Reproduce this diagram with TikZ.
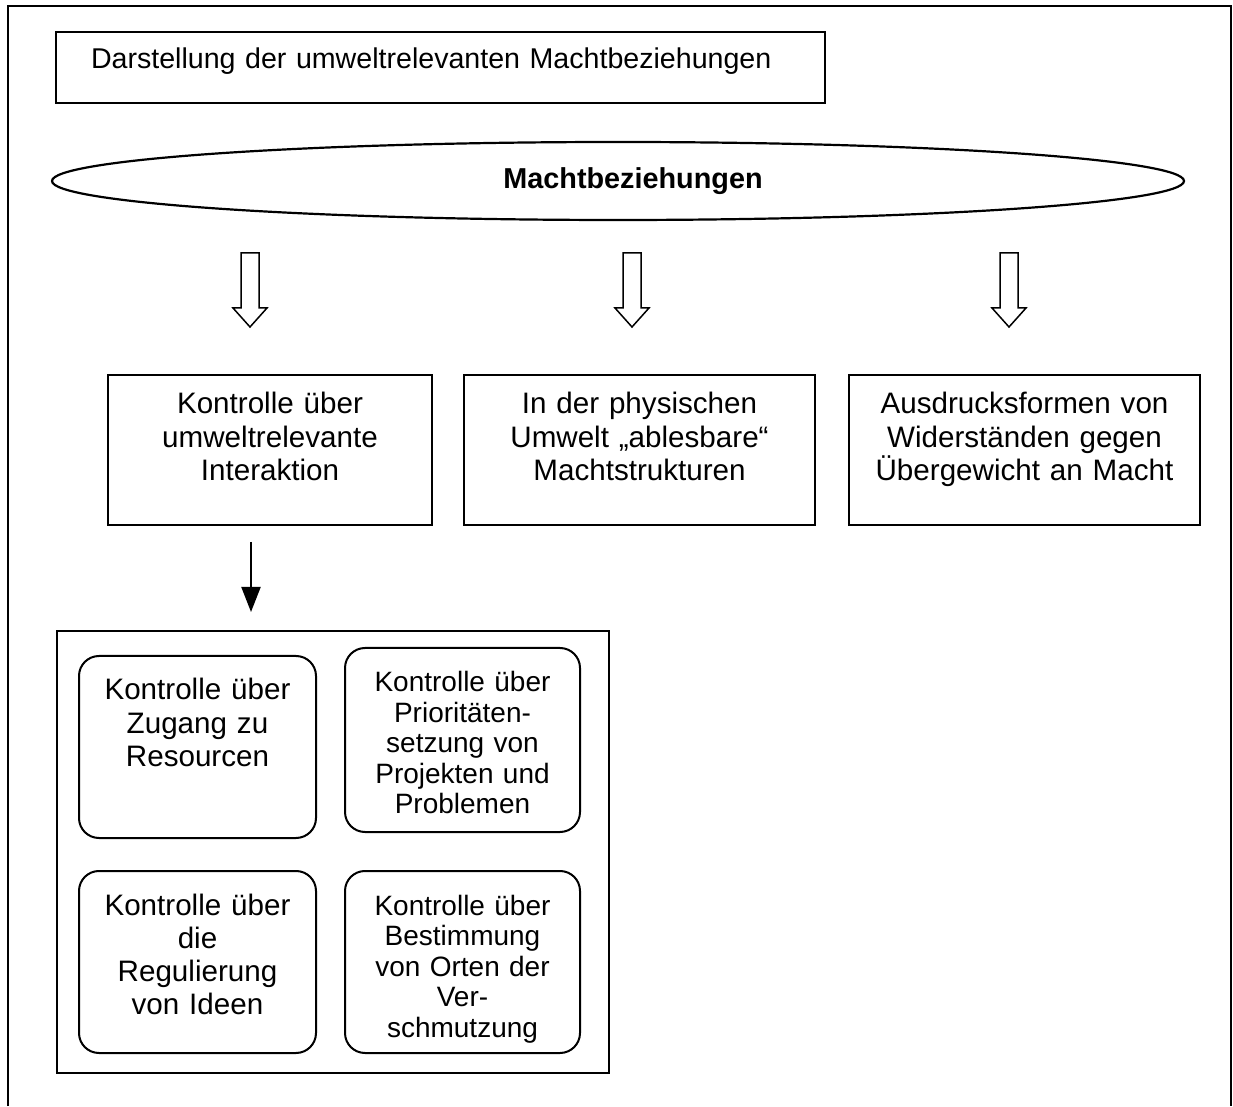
\documentclass[tikz,border=0pt]{standalone}
\usepackage{fontspec}
\setmainfont{Liberation Sans}
\usetikzlibrary{arrows.meta,positioning,shapes.geometric}
\newcommand\bigtxt{\fontsize{29.6}{33.2}\selectfont}
\newcommand\smalltxt{\fontsize{28}{30.5}\selectfont}
\newcommand\headtxt{\fontsize{28.6}{32}\selectfont}

\begin{document}
\begin{tikzpicture}[
    x=1pt, y=1pt,
    font=\bigtxt,
    titlebox/.style={
        rectangle, draw, line width=2pt, font=\headtxt,
        minimum width=769pt, minimum height=71pt,
        inner xsep=35pt, inner ysep=0pt, text width=699pt, align=left,
        text height=37pt, text depth=34pt
    },
    midbox/.style={
        rectangle, draw, line width=2pt,
        minimum height=150pt, inner xsep=5pt, inner ysep=0pt,
        align=center, text height=39pt, text depth=111pt
    },
    roundbox/.style={
        rectangle, rounded corners=20pt, draw, line width=2pt,
        minimum height=182pt, inner xsep=4pt, inner ysep=0pt,
        align=center, text height=44pt, text depth=138pt
    },
    hollow/.style={draw, line width=1.5pt, fill=white},
    arrow/.style={-{Triangle[length=25pt,width=19pt]}, line width=2pt}
]
\useasboundingbox (0,0) rectangle (1233,1106);

% outer frame, open at the bottom
\draw[line width=2.2pt] (8,0) |- (1231,1100) -- (1231,0);

\node[titlebox, anchor=north west] (title) at (55,1075)
    {Darstellung der umweltrelevanten Machtbeziehungen};

\node[ellipse, draw, line width=2.2pt, minimum width=1132pt, minimum height=78pt,
      inner sep=0pt, font=\fontsize{28.8}{32}\selectfont\bfseries] (power) at (618,925)
    {\hspace*{30pt}Machtbeziehungen};

% block arrows under the ellipse
\foreach \x in {250,632,1009}
    \draw[hollow] (\x-9,853) -- (\x-9,798) -- (\x-17,798) -- (\x,779)
                  -- (\x+17,798) -- (\x+9,798) -- (\x+9,853) -- cycle;

\node[midbox, anchor=north west, text width=314pt] (interact) at (107,732)
    {Kontrolle über\\umweltrelevante\\Interaktion};
\node[midbox, anchor=north west, text width=341pt] (physical) at (463,732)
    {In der physischen\\Umwelt „ablesbare“\\Machtstrukturen};
\node[midbox, anchor=north west, text width=341pt] (resist) at (848,732)
    {Ausdrucksformen von\\Widerständen gegen\\Übergewicht an Macht};

\node[rectangle, draw, line width=1.8pt, anchor=north west,
      minimum width=552pt, minimum height=442pt] (control) at (56,476) {};

\node[roundbox, anchor=north west, text width=229pt] (access) at (78,451)
    {Kontrolle über\\Zugang zu\\Resourcen};
\node[roundbox, anchor=north west, text width=227pt, font=\smalltxt,
      minimum height=184pt, text depth=140pt] (priority) at (344,459)
    {Kontrolle über\\Prioritäten-\\setzung von\\Projekten und\\Problemen};
\node[roundbox, anchor=north west, text width=229pt] (ideas) at (78,236)
    {Kontrolle über\\die\\Regulierung\\von Ideen};
\node[roundbox, anchor=north west, text width=227pt, font=\smalltxt] (pollution) at (344,236)
    {Kontrolle über\\Bestimmung\\von Orten der\\Ver-\\schmutzung};

\draw[arrow, shorten <=16pt, shorten >=18pt]
    ([xshift=-19pt]interact.south) -- ([xshift=-19pt]interact.south |- control.north);
\end{tikzpicture}
\end{document}
